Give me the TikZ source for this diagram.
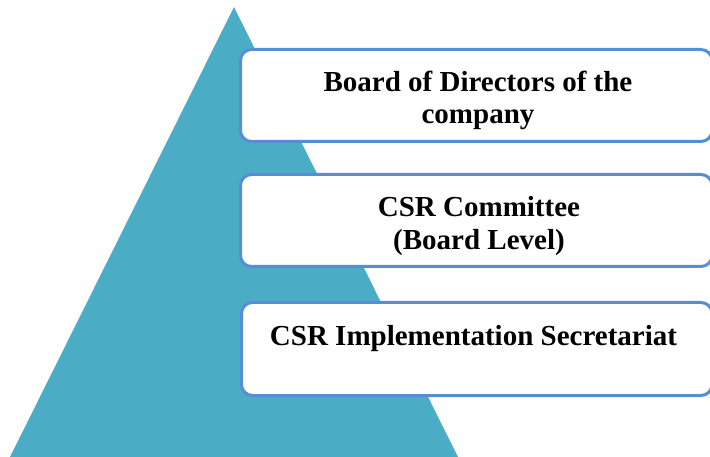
\documentclass[tikz,border=0pt]{standalone}
\usepackage{fontspec}
\setmainfont{Liberation Serif}
\definecolor{pyramid}{RGB}{75,172,198}
\definecolor{frame}{RGB}{85,142,213}
\begin{document}
\begin{tikzpicture}[x=1pt,y=-1pt,
  tier/.style={draw=frame, line width=3pt, fill=white, rounded corners=11pt},
  caption/.style={font=\fontsize{29}{32}\selectfont\bfseries, inner sep=0pt, anchor=base}]
\useasboundingbox (0,0) rectangle (710,457);

% pyramid
\fill[pyramid] (234,7) -- (10,457) -- (458,457) -- cycle;

% three tiers
\draw[tier] (240.5,49.5) rectangle (712,141.5);
\draw[tier] (240.5,174.5) rectangle (712,266.5);
\draw[tier] (241.5,302.5) rectangle (712,395.5);

% tier captions
\node[caption] (t1a) at (478,92) {Board of Directors of the};
\begin{scope}
  \clip (250,100) rectangle (700,129.5);
  \node[caption] (t1b) at (478,124) {company};
\end{scope}
\node[caption] (t2a) at (479,217) {CSR Committee};
\node[caption] (t2b) at (479,250) {(Board Level)};
\node[caption] (t3) at (473.5,345) {CSR Implementation Secretariat};
\end{tikzpicture}
\end{document}
